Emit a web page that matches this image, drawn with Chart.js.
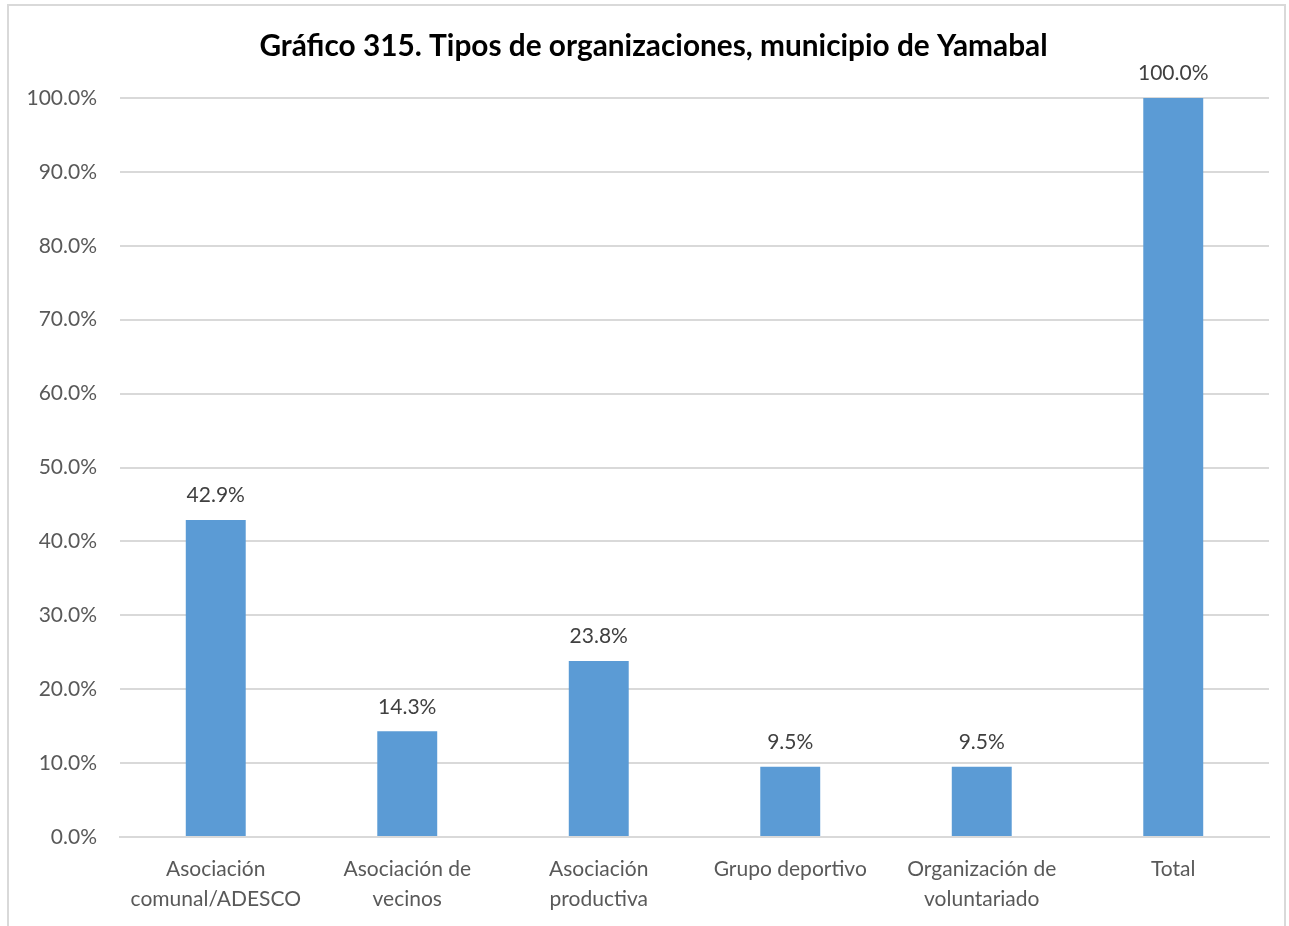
<!DOCTYPE html>
<html lang="es">
<head>
<meta charset="utf-8">
<title>Tipos de organizaciones, municipio de Yamabal</title>
<script src="https://cdn.jsdelivr.net/npm/chart.js@4.4.1/dist/chart.umd.min.js"></script>
<style>
  html, body { margin: 0; padding: 0; background: #fff; }
  #wrap { position: relative; width: 1289px; height: 926px; }
</style>
</head>
<body>
<div id="wrap"><canvas id="orgChart" width="1289" height="926"></canvas></div>
<script>
'use strict';

const titulo = 'Gráfico 315. Tipos de organizaciones, municipio de Yamabal';

// categorías (eje X), con salto de línea como en la hoja original
const categorias = [
  ['Asociación', 'comunal/ADESCO'],
  ['Asociación de', 'vecinos'],
  ['Asociación', 'productiva'],
  'Grupo deportivo',
  ['Organización de', 'voluntariado'],
  'Total'
];

// porcentaje por tipo de organización
const porcentajes = [42.9, 14.3, 23.8, 9.5, 9.5, 100.0];

// marcas del eje Y
const ticksY = [0, 10, 20, 30, 40, 50, 60, 70, 80, 90, 100];

const FUENTE = 'Lato, "Open Sans", Arial, sans-serif';
const GRIS_TEXTO = '#595959';
const GRIS_LINEA = '#d9d9d9';
const AZUL = '#5b9bd5';

const fmtPct = v => Number(v).toFixed(1) + '%';

// fondo, marco claro y título centrado sobre el marco
const marcoPlugin = {
  id: 'marco',
  beforeDraw(chart) {
    const ctx = chart.ctx;
    ctx.save();
    ctx.fillStyle = '#fff';
    ctx.fillRect(0, 0, chart.width, chart.height);
    ctx.strokeStyle = GRIS_LINEA;
    ctx.lineWidth = 2;
    ctx.strokeRect(8, 5, 1277, 940);
    ctx.restore();
  },
  afterDraw(chart) {
    const ctx = chart.ctx;
    ctx.save();
    ctx.font = 'bold 29.8px ' + FUENTE;
    ctx.fillStyle = '#000';
    ctx.textAlign = 'center';
    ctx.textBaseline = 'middle';
    ctx.fillText(titulo, 653.5, 46);
    ctx.restore();
  }
};

// etiquetas de valor encima de cada barra
const etiquetasPlugin = {
  id: 'etiquetas',
  afterDatasetsDraw(chart) {
    const ctx = chart.ctx;
    const meta = chart.getDatasetMeta(0);
    ctx.save();
    ctx.font = '21px ' + FUENTE;
    ctx.fillStyle = '#404040';
    ctx.textAlign = 'center';
    ctx.textBaseline = 'bottom';
    meta.data.forEach((bar, i) => {
      ctx.fillText(fmtPct(porcentajes[i]), bar.x, bar.y - 14);
    });
    ctx.restore();
  }
};

new Chart(document.getElementById('orgChart'), {
  type: 'bar',
  data: {
    labels: categorias,
    datasets: [{
      data: porcentajes,
      backgroundColor: AZUL,
      borderWidth: 0,
      categoryPercentage: 1,
      barPercentage: 0.313
    }]
  },
  options: {
    responsive: false,
    animation: false,
    layout: { padding: { top: 98, right: 20, bottom: 0, left: 0 } },
    plugins: {
      legend: { display: false },
      tooltip: { enabled: false },
      title: { display: false }
    },
    scales: {
      x: {
        grid: { display: false, drawTicks: false },
        border: { display: true, color: GRIS_LINEA, width: 2 },
        ticks: {
          color: GRIS_TEXTO,
          font: { family: FUENTE, size: 21, lineHeight: 1.43 },
          padding: 17,
          maxRotation: 0,
          autoSkip: false
        },
        afterFit(scale) { scale.height = 89; }
      },
      y: {
        min: 0,
        max: 100,
        afterBuildTicks(scale) { scale.ticks = ticksY.map(v => ({ value: v })); },
        grid: { color: GRIS_LINEA, lineWidth: 2, drawTicks: false },
        border: { display: false },
        ticks: {
          color: GRIS_TEXTO,
          font: { family: FUENTE, size: 21 },
          padding: 23,
          callback: v => fmtPct(v)
        },
        afterFit(scale) { scale.width = 120; }
      }
    }
  },
  plugins: [marcoPlugin, etiquetasPlugin]
});
</script>
</body>
</html>
